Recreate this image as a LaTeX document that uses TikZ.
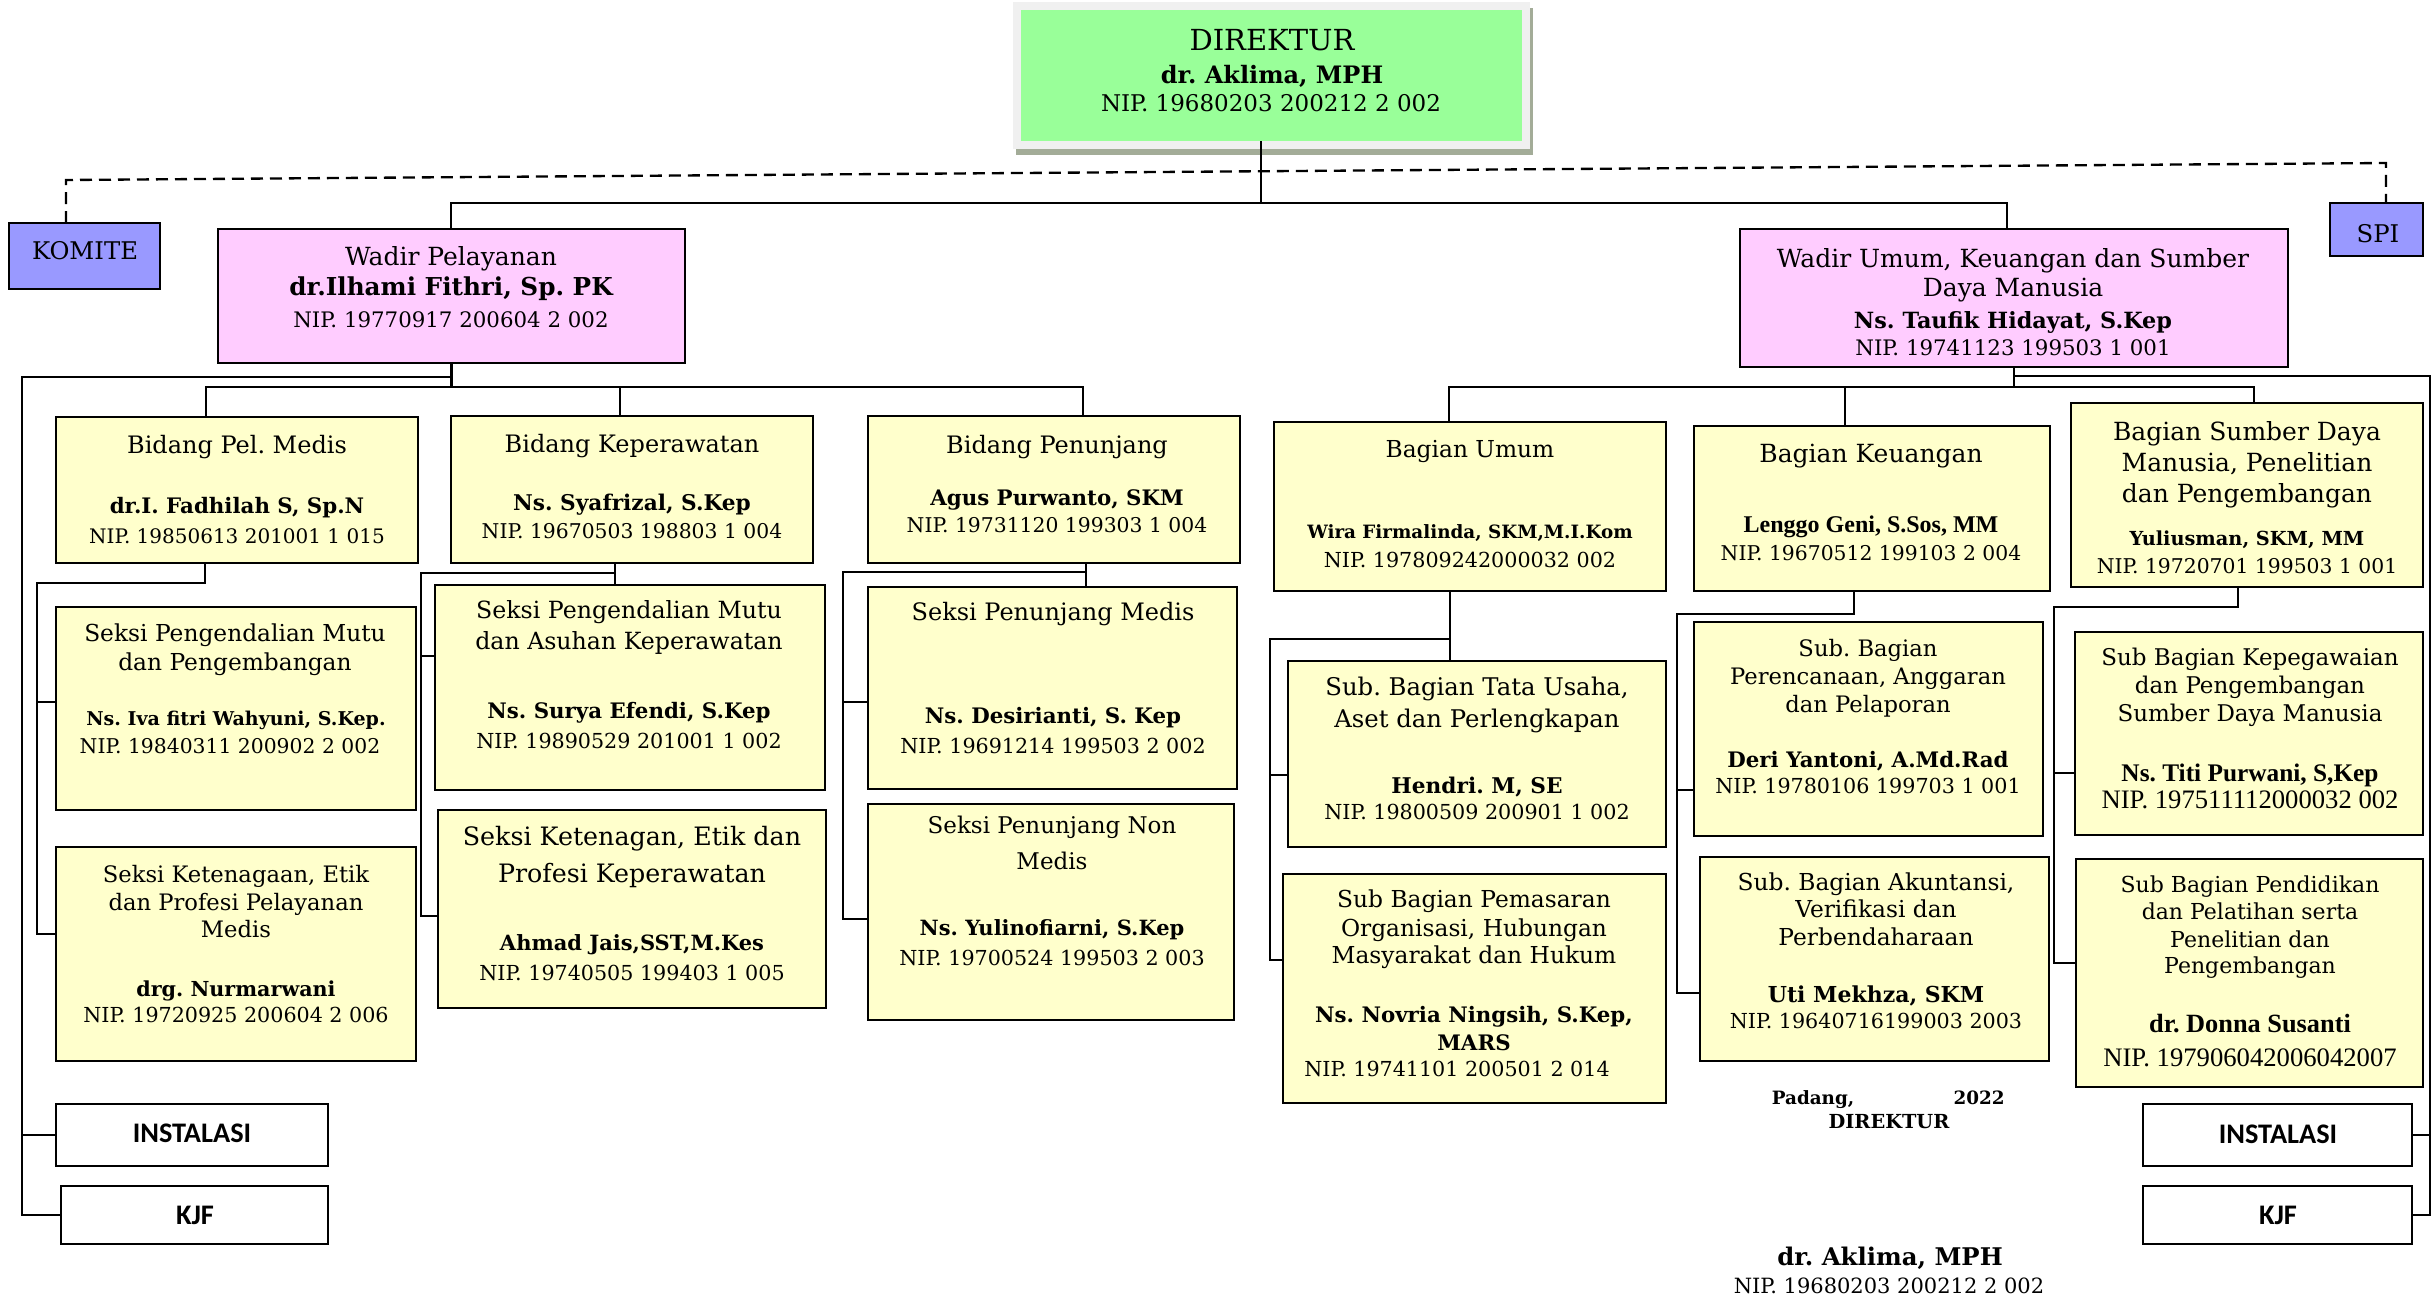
\documentclass[tikz,border=0pt]{standalone}
\usepackage{fontspec}
\setmainfont{DejaVu Serif}
\newfontfamily\narfont{Liberation Serif}
\newfontfamily\calfont{Carlito}
\frenchspacing
\definecolor{grn}{HTML}{99FF99}
\definecolor{pnk}{HTML}{FFCCFF}
\definecolor{yel}{HTML}{FFFFCC}
\definecolor{blu}{HTML}{9999FF}
\definecolor{frm}{HTML}{F0F0F0}
\definecolor{shd}{HTML}{A3AC98}
\newcommand\fR[1]{\fontsize{#1}{#1}\selectfont}
\newcommand\fB[1]{\fontsize{#1}{#1}\selectfont\bfseries}
\newcommand\fN[1]{\narfont\fontsize{#1}{#1}\selectfont}
\newcommand\fNB[1]{\narfont\fontsize{#1}{#1}\selectfont\bfseries}
\newcommand\fC[1]{\calfont\fontsize{#1}{#1}\selectfont\bfseries}
\newcommand\bx[6]{\node[#6, anchor=north west, minimum width={(#4-#2)*0.3pt}, minimum height={(#5-#3)*0.3pt}] (#1) at (#2,#3) {};}
\newcommand\tl[5]{\node[txt] (#1) at (#2,#3) {#4#5};}
\tikzset{
  box/.style={draw=black, line width=0.85pt, inner sep=0pt, outer sep=0pt},
  yb/.style={box, fill=yel},
  pb/.style={box, fill=pnk},
  bb/.style={box, fill=blu},
  wb/.style={box, fill=white},
  gb/.style={inner sep=0pt, outer sep=0pt, fill=grn},
  txt/.style={anchor=base, inner sep=0pt, outer sep=0pt},
  ln/.style={line width=0.8pt},
  dsh/.style={line width=0.7pt, dash pattern=on 3.6pt off 2.1pt}
}
\begin{document}
\begin{tikzpicture}[x=0.3pt,y=-0.3pt]
\useasboundingbox[fill=white] (0,0) rectangle (2433,1298);
% director frame and shadow
\fill[shd] (1016,8) rectangle (1533,155);
\fill[frm] (1013,2) rectangle (1530,149);
\bx{dir}{1021}{10}{1522}{141}{gb}
% boxes
\bx{kom}{9}{223}{160}{289}{bb}
\bx{spi}{2330}{203}{2423}{256}{bb}
\bx{wp}{218}{229}{685}{363}{pb}
\bx{wu}{1740}{229}{2288}{367}{pb}
\bx{bpm}{56}{417}{418}{563}{yb}
\bx{bke}{451}{416}{813}{563}{yb}
\bx{bpn}{868}{416}{1240}{563}{yb}
\bx{bu}{1274}{422}{1666}{591}{yb}
\bx{bk}{1694}{426}{2050}{591}{yb}
\bx{bsdm}{2071}{403}{2423}{587}{yb}
\bx{smp}{56}{607}{416}{810}{yb}
\bx{skm}{56}{847}{416}{1061}{yb}
\bx{smak}{435}{585}{825}{790}{yb}
\bx{skp}{438}{810}{826}{1008}{yb}
\bx{spm}{868}{587}{1237}{789}{yb}
\bx{spnm}{868}{804}{1234}{1020}{yb}
\bx{sbtu}{1288}{661}{1666}{847}{yb}
\bx{sbpm}{1283}{874}{1666}{1103}{yb}
\bx{sbp}{1694}{622}{2043}{836}{yb}
\bx{sba}{1700}{857}{2049}{1061}{yb}
\bx{sbk}{2075}{632}{2423}{835}{yb}
\bx{sbpp}{2076}{859}{2423}{1087}{yb}
\bx{instL}{56}{1104}{328}{1166}{wb}
\bx{kjfL}{61}{1186}{328}{1244}{wb}
\bx{instR}{2143}{1104}{2412}{1166}{wb}
\bx{kjfR}{2143}{1186}{2412}{1244}{wb}
% texts
\tl{d1}{1272}{50}{\fR{8.7}}{DIREKTUR}
\tl{d2}{1272}{83}{\fB{7.2}}{dr. Aklima, MPH}
\tl{d3}{1271}{111}{\fR{6.9}}{NIP. 19680203 200212 2 002}
\tl{k1t}{85}{259}{\fR{7.3}}{KOMITE}
\tl{s1t}{2378}{242}{\fR{7.3}}{SPI}
\tl{wp1}{451}{265}{\fR{7.5}}{Wadir Pelayanan}
\tl{wp2}{451}{295}{\fB{7.4}}{dr.Ilhami Fithri, Sp. PK}
\tl{wp3}{451}{327}{\fR{6.4}}{NIP. 19770917 200604 2 002}
\tl{wu1}{2013}{267}{\fR{7.5}}{Wadir Umum, Keuangan dan Sumber}
\tl{wu2}{2013}{296}{\fR{7.5}}{Daya Manusia}
\tl{wu3}{2013}{328}{\fB{6.7}}{Ns. Taufik Hidayat, S.Kep}
\tl{wu4}{2013}{355}{\fR{6.4}}{NIP. 19741123 199503 1 001}
\tl{bpm1}{237}{453}{\fR{7.2}}{Bidang Pel. Medis}
\tl{bpm2}{237}{513}{\fB{6.4}}{dr.I. Fadhilah S, Sp.N}
\tl{bpm3}{237}{543}{\fR{6.0}}{NIP. 19850613 201001 1 015}
\tl{bke1}{632}{452}{\fR{7.2}}{Bidang Keperawatan}
\tl{bke2}{632}{510}{\fB{6.5}}{Ns. Syafrizal, S.Kep}
\tl{bke3}{632}{538}{\fR{6.1}}{NIP. 19670503 198803 1 004}
\tl{bpn1}{1057}{453}{\fR{7.2}}{Bidang Penunjang}
\tl{bpn2}{1057}{505}{\fB{6.4}}{Agus Purwanto, SKM}
\tl{bpn3}{1057}{532}{\fR{6.1}}{NIP. 19731120 199303 1 004}
\tl{bu1}{1470}{457}{\fR{7.0}}{Bagian Umum}
\tl{bu2}{1470}{538}{\fB{5.5}}{Wira Firmalinda, SKM,M.I.Kom}
\tl{bu3}{1470}{567}{\fR{6.2}}{NIP. 197809242000032 002}
\tl{bk1}{1871}{462}{\fR{7.5}}{Bagian Keuangan}
\tl{bk2}{1871}{532}{\fNB{7.2}}{Lenggo Geni, S.Sos, MM}
\tl{bk3}{1871}{560}{\fR{6.1}}{NIP. 19670512 199103 2 004}
\tl{bs1}{2247}{440}{\fR{7.5}}{Bagian Sumber Daya}
\tl{bs2}{2247}{471}{\fR{7.5}}{Manusia, Penelitian}
\tl{bs3}{2247}{502}{\fR{7.5}}{dan Pengembangan}
\tl{bs4}{2247}{545}{\fB{5.8}}{Yuliusman, SKM, MM}
\tl{bs5}{2247}{573}{\fR{6.1}}{NIP. 19720701 199503 1 001}
\tl{smp1}{235}{641}{\fR{7.0}}{Seksi Pengendalian Mutu}
\tl{smp2}{235}{670}{\fR{7.0}}{dan Pengembangan}
\tl{smp3}{236}{725}{\fB{5.7}}{Ns. Iva fitri Wahyuni, S.Kep.}
\tl{smp4}{230}{753}{\fR{6.1}}{NIP. 19840311 200902 2 002}
\tl{skm1}{236}{882}{\fR{6.8}}{Seksi Ketenagaan, Etik}
\tl{skm2}{236}{910}{\fR{6.8}}{dan Profesi Pelayanan}
\tl{skm3}{236}{937}{\fR{6.8}}{Medis}
\tl{skm4}{236}{996}{\fB{6.2}}{drg. Nurmarwani}
\tl{skm5}{236}{1022}{\fR{6.2}}{NIP. 19720925 200604 2 006}
\tl{sma1}{629}{618}{\fR{7.1}}{Seksi Pengendalian Mutu}
\tl{sma2}{629}{649}{\fR{7.1}}{dan Asuhan Keperawatan}
\tl{sma3}{629}{718}{\fB{6.4}}{Ns. Surya Efendi, S.Kep}
\tl{sma4}{629}{748}{\fR{6.2}}{NIP. 19890529 201001 1 002}
\tl{skp1}{632}{845}{\fR{7.6}}{Seksi Ketenagan, Etik dan}
\tl{skp2}{632}{882}{\fR{7.6}}{Profesi Keperawatan}
\tl{skp3}{632}{950}{\fB{6.3}}{Ahmad Jais,SST,M.Kes}
\tl{skp4}{632}{980}{\fR{6.2}}{NIP. 19740505 199403 1 005}
\tl{spm1}{1053}{620}{\fR{7.2}}{Seksi Penunjang Medis}
\tl{spm2}{1053}{723}{\fB{6.4}}{Ns. Desirianti, S. Kep}
\tl{spm3}{1053}{753}{\fR{6.2}}{NIP. 19691214 199503 2 002}
\tl{spn1}{1052}{833}{\fR{6.9}}{Seksi Penunjang Non}
\tl{spn2}{1052}{869}{\fR{6.9}}{Medis}
\tl{spn3}{1052}{935}{\fB{6.3}}{Ns. Yulinofiarni, S.Kep}
\tl{spn4}{1052}{965}{\fR{6.2}}{NIP. 19700524 199503 2 003}
\tl{stu1}{1477}{695}{\fR{7.3}}{Sub. Bagian Tata Usaha,}
\tl{stu2}{1477}{727}{\fR{7.3}}{Aset dan Perlengkapan}
\tl{stu3}{1477}{793}{\fB{6.5}}{Hendri. M, SE}
\tl{stu4}{1477}{819}{\fR{6.2}}{NIP. 19800509 200901 1 002}
\tl{spa1}{1474}{907}{\fR{7.0}}{Sub Bagian Pemasaran}
\tl{spa2}{1474}{936}{\fR{7.0}}{Organisasi, Hubungan}
\tl{spa3}{1474}{963}{\fR{7.0}}{Masyarakat dan Hukum}
\tl{spa4}{1474}{1022}{\fB{6.4}}{Ns. Novria Ningsih, S.Kep,}
\tl{spa5}{1474}{1050}{\fB{6.4}}{MARS}
\tl{spa6}{1457}{1076}{\fR{6.2}}{NIP. 19741101 200501 2 014}
\tl{sbp1}{1868}{656}{\fR{6.8}}{Sub. Bagian}
\tl{sbp2}{1868}{684}{\fR{6.8}}{Perencanaan, Anggaran}
\tl{sbp3}{1868}{712}{\fR{6.8}}{dan Pelaporan}
\tl{sbp4}{1868}{767}{\fB{6.4}}{Deri Yantoni, A.Md.Rad}
\tl{sbp5}{1868}{793}{\fR{6.2}}{NIP. 19780106 199703 1 001}
\tl{sba1}{1876}{890}{\fR{7.0}}{Sub. Bagian Akuntansi,}
\tl{sba2}{1876}{917}{\fR{7.0}}{Verifikasi dan}
\tl{sba3}{1876}{945}{\fR{7.0}}{Perbendaharaan}
\tl{sba4}{1876}{1002}{\fB{6.6}}{Uti Mekhza, SKM}
\tl{sba5}{1876}{1028}{\fR{6.2}}{NIP. 19640716199003 2003}
\tl{sbk1}{2250}{665}{\fR{6.9}}{Sub Bagian Kepegawaian}
\tl{sbk2}{2250}{693}{\fR{6.9}}{dan Pengembangan}
\tl{sbk3}{2250}{721}{\fR{6.9}}{Sumber Daya Manusia}
\tl{sbk4}{2250}{781}{\fNB{7.6}}{Ns. Titi Purwani, S,Kep}
\tl{sbk5}{2250}{808}{\fN{8.0}}{NIP. 197511112000032 002}
\tl{sbq1}{2250}{892}{\fR{6.6}}{Sub Bagian Pendidikan}
\tl{sbq2}{2250}{919}{\fR{6.6}}{dan Pelatihan serta}
\tl{sbq3}{2250}{947}{\fR{6.6}}{Penelitian dan}
\tl{sbq4}{2250}{973}{\fR{6.6}}{Pengembangan}
\tl{sbq5}{2250}{1032}{\fNB{7.9}}{dr. Donna Susanti}
\tl{sbq6}{2250}{1066}{\fN{8.0}}{NIP. 197906042006042007}
\tl{il}{192}{1142}{\fC{8.5}}{INSTALASI}
\tl{kl}{195}{1224}{\fC{8.5}}{KJF}
\tl{ir}{2278}{1143}{\fC{8.5}}{INSTALASI}
\tl{kr}{2278}{1224}{\fC{8.5}}{KJF}
\tl{sg1}{1813}{1104}{\fB{5.5}}{Padang,}
\tl{sg2}{1979}{1104}{\fB{5.5}}{2022}
\tl{sg3}{1889}{1128}{\fB{5.8}}{DIREKTUR}
\tl{sg4}{1890}{1265}{\fB{7.3}}{dr. Aklima, MPH}
\tl{sg5}{1889}{1293}{\fR{6.3}}{NIP. 19680203 200212 2 002}
% coordinates
\coordinate (dk) at (66,180);
\coordinate (ds) at (2386,163);
\coordinate (busT) at (1261,203);
\coordinate (tL) at (451,203);
\coordinate (tR) at (2007,203);
\coordinate (bus1) at (0,387);
\coordinate (lb) at (22,377);
\coordinate (rb) at (2430,376);
\coordinate (b1L) at (206,387);
\coordinate (b1M) at (620,387);
\coordinate (b1R) at (1083,387);
\coordinate (b2L) at (1449,387);
\coordinate (b2M) at (1845,387);
\coordinate (b2R) at (2254,387);
\coordinate (c1) at (205,583);  \coordinate (c1L) at (37,583);
\coordinate (k1) at (37,702);   \coordinate (k2) at (37,934);
\coordinate (c2) at (615,573);  \coordinate (c2L) at (421,573);
\coordinate (k3) at (421,656);  \coordinate (k4) at (421,916);
\coordinate (c3) at (1086,572); \coordinate (c3L) at (843,572);
\coordinate (k5) at (843,702);  \coordinate (k6) at (843,919);
\coordinate (c4) at (1450,639); \coordinate (c4L) at (1270,639);
\coordinate (k7) at (1270,775); \coordinate (k8) at (1270,960);
\coordinate (c5) at (1854,614); \coordinate (c5L) at (1677,614);
\coordinate (k9) at (1677,790); \coordinate (k10) at (1677,993);
\coordinate (c6) at (2238,607); \coordinate (c6L) at (2054,607);
\coordinate (k11) at (2054,773); \coordinate (k12) at (2054,963);
% dashed staff lines
\draw[dsh] (kom.north -| dk) -- (dk) -- (ds) -- (spi.north -| ds);
% top level
\draw[ln] (dir.south -| busT) -- (busT);
\draw[ln] (tL |- wp.north) -- (tL) -- (tR) -- (tR |- wu.north);
% left wing
\draw[ln] (wp.south) -- (wp.south |- bus1);
\draw[ln] (wp.south |- lb) -- (lb) -- (lb |- kjfL.west) -- (kjfL.west);
\draw[ln] (lb |- instL.west) -- (instL.west);
\draw[ln] (b1L |- bpm.north) -- (b1L) -- (b1R) -- (b1R |- bpn.north);
\draw[ln] (b1M) -- (b1M |- bke.north);
\draw[ln] (c1 |- bpm.south) -- (c1) -- (c1L) -- (k2) -- (k2 -| skm.west);
\draw[ln] (k1) -- (k1 -| smp.west);
\draw[ln] (c2 |- bke.south) -- (c2 |- smak.north);
\draw[ln] (c2) -- (c2L) -- (k4) -- (k4 -| skp.west);
\draw[ln] (k3) -- (k3 -| smak.west);
\draw[ln] (c3 |- bpn.south) -- (c3 |- spm.north);
\draw[ln] (c3) -- (c3L) -- (k6) -- (k6 -| spnm.west);
\draw[ln] (k5) -- (k5 -| spm.west);
% right wing
\draw[ln] (wu.south) -- (wu.south |- bus1);
\draw[ln] (wu.south |- rb) -- (rb) -- (rb |- kjfR.east) -- (kjfR.east);
\draw[ln] (rb |- instR.east) -- (instR.east);
\draw[ln] (b2L |- bu.north) -- (b2L) -- (b2R) -- (b2R |- bsdm.north);
\draw[ln] (b2M) -- (b2M |- bk.north);
\draw[ln] (c4 |- bu.south) -- (c4 |- sbtu.north);
\draw[ln] (c4) -- (c4L) -- (k8) -- (k8 -| sbpm.west);
\draw[ln] (k7) -- (k7 -| sbtu.west);
\draw[ln] (c5 |- bk.south) -- (c5) -- (c5L) -- (k10) -- (k10 -| sba.west);
\draw[ln] (k9) -- (k9 -| sbp.west);
\draw[ln] (c6 |- bsdm.south) -- (c6) -- (c6L) -- (k12) -- (k12 -| sbpp.west);
\draw[ln] (k11) -- (k11 -| sbk.west);
\end{tikzpicture}
\end{document}
